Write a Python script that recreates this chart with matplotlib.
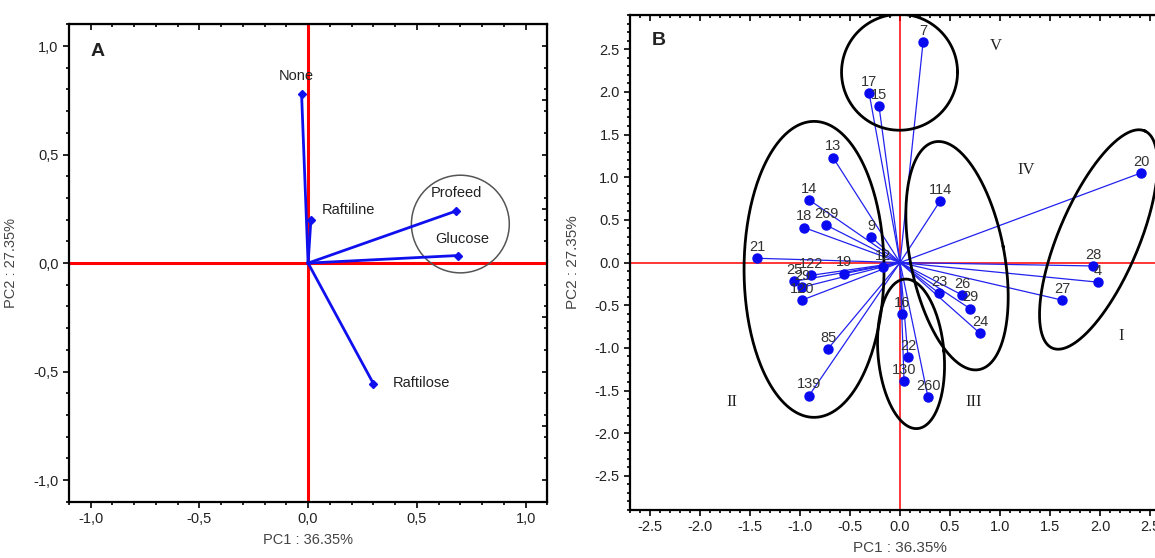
import numpy as np
import matplotlib.pyplot as plt
from matplotlib.ticker import MultipleLocator, FuncFormatter

plt.rcParams['font.family'] = ['Liberation Sans', 'DejaVu Sans']
plt.rcParams['axes.unicode_minus'] = False

# panel A: loadings of the prebiotics
sugars = ['None', 'Raftiline', 'Profeed', 'Glucose', 'Raftilose']
load_pc1 = [-0.03, 0.013, 0.68, 0.69, 0.30]
load_pc2 = [0.78, 0.20, 0.24, 0.035, -0.555]

# panel B: scores of the strains
strains = ['7', '17', '15', '13', '114', '14', '18', '269', '9', '21', '25', '122',
           '29', '120', '19', '12', '16', '22', '130', '260', '85', '139', '23', '26',
           '29', '24', '20', '28', '4', '27']
score_pc1 = [0.23, -0.31, -0.21, -0.67, 0.40, -0.91, -0.96, -0.74, -0.29, -1.43, -1.06, -0.89,
             -0.98, -0.98, -0.56, -0.17, 0.02, 0.08, 0.04, 0.28, -0.72, -0.91, 0.39, 0.62,
             0.70, 0.80, 2.41, 1.93, 1.98, 1.62]
score_pc2 = [2.58, 1.99, 1.83, 1.23, 0.72, 0.735, 0.41, 0.44, 0.30, 0.05, -0.22, -0.15,
             -0.29, -0.44, -0.13, -0.05, -0.60, -1.11, -1.39, -1.58, -1.01, -1.56, -0.36, -0.38,
             -0.54, -0.83, 1.05, -0.04, -0.23, -0.44]

groups = ['I', 'II', 'III', 'IV', 'V']
group_x = [2.21, -1.68, 0.74, 1.26, 0.96]
group_y = [-0.86, -1.63, -1.63, 1.08, 2.54]

fig = plt.figure(figsize=(11.55, 5.58), dpi=100)

def style_axes(ax, major):
    ax.xaxis.set_major_locator(MultipleLocator(major))
    ax.yaxis.set_major_locator(MultipleLocator(major))
    ax.xaxis.set_minor_locator(MultipleLocator(0.1))
    ax.yaxis.set_minor_locator(MultipleLocator(0.1))
    ax.tick_params(which='both', direction='out', top=False, right=False,
                   labelsize=10.5, labelcolor='#222222', width=1.2)
    ax.tick_params(which='major', length=4)
    ax.tick_params(which='minor', length=2.5)
    for s in ax.spines.values():
        s.set_linewidth(1.6)
    # inward ticks on the top edge
    sec = ax.secondary_xaxis('top')
    sec.xaxis.set_major_locator(MultipleLocator(major))
    sec.xaxis.set_minor_locator(MultipleLocator(0.1))
    sec.tick_params(which='both', direction='in', labeltop=False, width=1.2)
    sec.tick_params(which='major', length=4)
    sec.tick_params(which='minor', length=2.5)
    sec.set_xticklabels([])
    return sec

# ---- Panel A ----
axA = fig.add_axes([0.0596, 0.1007, 0.4143, 0.8556])
axA.set_xlim(-1.1, 1.1)
axA.set_ylim(-1.1, 1.1)
style_axes(axA, 0.5)
secy = axA.secondary_yaxis('right')
secy.yaxis.set_minor_locator(MultipleLocator(0.1))
secy.tick_params(which='both', direction='in', labelright=False, width=1.2)
secy.set_yticklabels([])
comma = FuncFormatter(lambda v, p: f'{v:.1f}'.replace('.', ','))
axA.xaxis.set_major_formatter(comma)
axA.yaxis.set_major_formatter(comma)

axA.axhline(0, color='red', lw=2.2, zorder=1)
axA.axvline(0, color='red', lw=2.2, zorder=1)
for x, y in zip(load_pc1, load_pc2):
    axA.plot([0, x], [0, y], color='#1010ee', lw=2, zorder=2)
axA.plot(load_pc1, load_pc2, 'D', color='#1010ee', ms=4.5, zorder=3)

label_off = {'None': (-4, 8, 'center'), 'Raftiline': (8, 2, 'left'),
             'Profeed': (0, 8, 'center'), 'Glucose': (3, 7, 'center'),
             'Raftilose': (14, -5, 'left')}
for name, x, y in zip(sugars, load_pc1, load_pc2):
    dx, dy, ha = label_off[name]
    axA.annotate(name, (x, y), xytext=(dx, dy), textcoords='offset points',
                 ha=ha, va='bottom', fontsize=10.5, color='#222222')

circ = plt.Circle((0.70, 0.18), 0.225, fill=False, ec='#555555', lw=1.1)
axA.add_patch(circ)
axA.text(0.045, 0.96, 'A', transform=axA.transAxes, fontsize=14, fontweight='bold',
         va='top', color='#222222')
axA.set_xlabel('PC1 : 36.35%', fontsize=10.5, color='#444444', labelpad=5)
axA.set_ylabel('PC2 : 27.35%', fontsize=10.5, color='#444444', labelpad=11)

# ---- Panel B ----
axB = fig.add_axes([0.5455, 0.086, 0.4675, 0.887])
axB.set_xlim(-2.7, 2.7)
axB.set_ylim(-2.9, 2.9)
style_axes(axB, 0.5)
axB.xaxis.set_major_formatter(FuncFormatter(lambda v, p: f'{v:.1f}'))
axB.yaxis.set_major_formatter(FuncFormatter(lambda v, p: f'{v:.1f}'))

axB.axhline(0, color='red', lw=1.1, zorder=1)
axB.axvline(0, color='red', lw=1.1, zorder=1)
for x, y in zip(score_pc1, score_pc2):
    axB.plot([0, x], [0, y], color='#2222ee', lw=0.9, zorder=2)
axB.plot(score_pc1, score_pc2, 'o', color='#0a0af0', ms=6.5, zorder=3)
for name, x, y in zip(strains, score_pc1, score_pc2):
    axB.annotate(name, (x, y), xytext=(0, 3), textcoords='offset points',
                 ha='center', va='bottom', fontsize=10.5, color='#333333', zorder=4)

# ellipse outlines: centre, semi-axes in x units, tilt in degrees on screen
x_px = 0.4675 * 1155 / 5.4
y_px = 0.887 * 558 / 5.8
def ellipse(cx, cy, a, b, ang):
    t = np.linspace(0, 2 * np.pi, 300)
    r = np.deg2rad(ang)
    u = a * np.cos(t) * np.cos(r) - b * np.sin(t) * np.sin(r)
    v = a * np.cos(t) * np.sin(r) + b * np.sin(t) * np.cos(r)
    axB.plot(cx + u, cy + v * x_px / y_px, color='black', lw=2, zorder=2.5)

ellipse(1.985, 0.27, 1.18, 0.40, 67)
ellipse(-0.86, -0.08, 0.70, 1.48, 0)
ellipse(0.11, -1.07, 0.33, 0.75, 5)
ellipse(0.57, 0.08, 0.47, 1.16, 11)
ellipse(-0.005, 2.23, 0.58, 0.58, 0)

for g, x, y in zip(groups, group_x, group_y):
    axB.text(x, y, g, fontsize=12, family=['Liberation Serif', 'DejaVu Serif'],
             ha='center', va='center', color='#222222')

axB.text(0.04, 0.965, 'B', transform=axB.transAxes, fontsize=14, fontweight='bold',
         va='top', color='#222222')
axB.set_xlabel('PC1 : 36.35%', fontsize=11, color='#444444', labelpad=5)
axB.set_ylabel('PC2 : 27.35%', fontsize=11, color='#444444', labelpad=10)

fig.savefig('out.png', dpi=100)
